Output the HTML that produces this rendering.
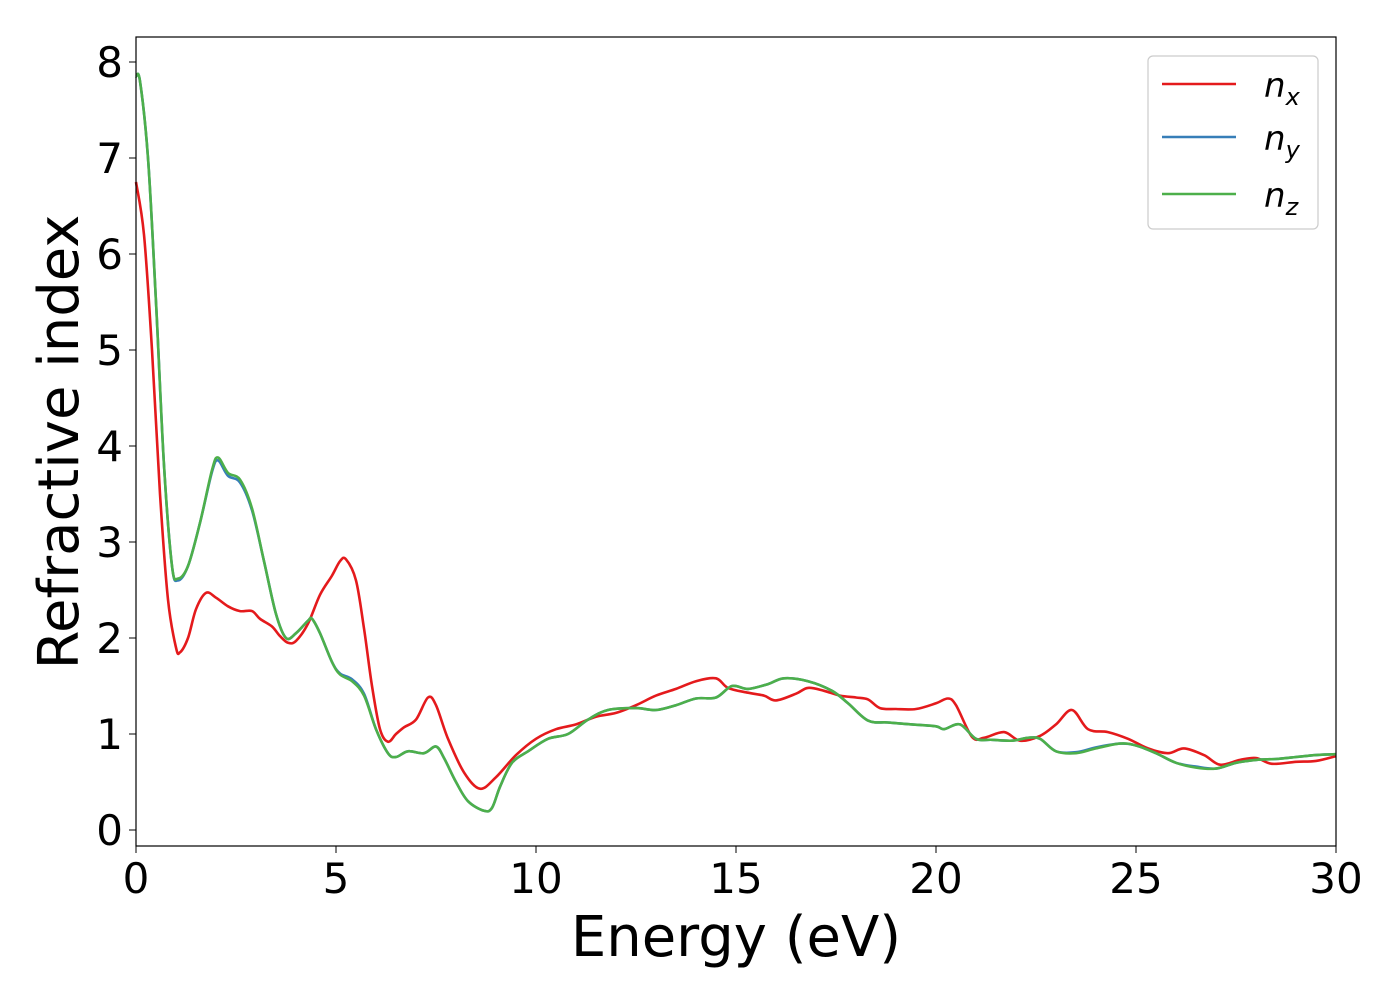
<!DOCTYPE html>
<html><head><meta charset="utf-8"><style>
body{margin:0;background:#fff;}
svg{display:block;font-family:"DejaVu Sans","Liberation Sans",sans-serif;}
</style></head><body>
<svg id="chart" width="1400" height="1000" viewBox="0 0 1400 1000">
<rect x="0" y="0" width="1400" height="1000" fill="#fff"/>
<g id="series"></g>
<rect x="136" y="37" width="1200" height="809" fill="none" stroke="#000" stroke-width="1.2"/>
<g id="ticks"></g>
<text x="736" y="956" font-size="56" text-anchor="middle">Energy (eV)</text>
<text transform="translate(78,442) rotate(-90)" font-size="56" text-anchor="middle">Refractive index</text>
<g>
<rect x="1148" y="56" width="170" height="173" rx="5" fill="#fff" stroke="#ccc" stroke-width="1.2"/>
<g><line x1="1162" y1="84" x2="1236" y2="84" stroke="#e41a1c" stroke-width="2.5"/><text x="1264" y="97" font-size="34" font-style="italic">n<tspan font-size="24" dy="8">x</tspan></text></g>
<g><line x1="1162" y1="137" x2="1236" y2="137" stroke="#377eb8" stroke-width="2.5"/><text x="1264" y="150" font-size="34" font-style="italic">n<tspan font-size="24" dy="8">y</tspan></text></g>
<g><line x1="1162" y1="194" x2="1236" y2="194" stroke="#4daf4a" stroke-width="2.5"/><text x="1264" y="207" font-size="34" font-style="italic">n<tspan font-size="24" dy="8">z</tspan></text></g>
</g>
</svg>
<script>
const xTicks=[0,5,10,15,20,25,30];
const yTicks=[0,1,2,3,4,5,6,7,8];
const nxE=[0,0.2,0.4,0.6,0.8,1.0,1.1,1.3,1.5,1.75,2.0,2.3,2.6,2.9,3.1,3.4,3.6,3.8,4.0,4.3,4.6,4.9,5.1,5.25,5.5,5.7,5.9,6.1,6.3,6.5,6.7,7.0,7.3,7.5,7.8,8.2,8.6,9.0,9.5,10,10.5,11,11.5,12,12.5,13,13.5,14,14.5,14.8,15.3,15.7,16.0,16.5,16.8,17.2,17.6,18,18.3,18.6,19,19.5,20,20.3,20.5,20.9,21.2,21.7,22.1,22.6,23,23.4,23.8,24.3,24.8,25.3,25.8,26.2,26.7,27.1,27.6,28,28.4,29,29.5,30];
const nxV=[6.75,6.2,5,3.5,2.4,1.9,1.85,2.0,2.3,2.47,2.42,2.33,2.28,2.28,2.2,2.12,2.02,1.95,1.97,2.15,2.45,2.65,2.8,2.82,2.6,2.1,1.5,1.05,0.92,1.0,1.07,1.15,1.38,1.3,0.95,0.6,0.43,0.55,0.78,0.95,1.05,1.1,1.18,1.22,1.3,1.4,1.47,1.55,1.58,1.48,1.43,1.4,1.35,1.42,1.48,1.45,1.4,1.38,1.36,1.27,1.26,1.26,1.32,1.37,1.3,0.97,0.96,1.02,0.93,0.98,1.1,1.25,1.05,1.02,0.95,0.85,0.8,0.85,0.78,0.68,0.73,0.75,0.69,0.71,0.72,0.77];
const nzE=[0,0.1,0.3,0.5,0.7,0.9,1.05,1.3,1.6,1.9,2.05,2.3,2.6,2.9,3.2,3.5,3.75,4.0,4.3,4.4,4.6,4.9,5.1,5.4,5.7,6.0,6.3,6.5,6.8,7.2,7.5,7.7,8.0,8.3,8.7,8.9,9.1,9.4,9.8,10.3,10.8,11.3,11.8,12.5,13,13.5,14,14.5,14.9,15.3,15.8,16.2,16.8,17.4,17.8,18.3,18.8,19.4,20,20.2,20.6,21,21.4,21.9,22.3,22.6,23,23.5,24,24.6,25.0,25.5,26.0,26.5,27,27.5,28,28.5,29,29.5,30];
const nzV=[7.85,7.8,7,5.5,3.8,2.75,2.62,2.75,3.2,3.75,3.88,3.72,3.65,3.35,2.8,2.25,2.0,2.05,2.18,2.2,2.05,1.75,1.62,1.55,1.4,1.05,0.8,0.76,0.82,0.8,0.87,0.75,0.5,0.3,0.2,0.23,0.45,0.7,0.82,0.95,1.0,1.15,1.25,1.27,1.25,1.3,1.37,1.38,1.5,1.47,1.52,1.58,1.55,1.45,1.32,1.14,1.12,1.1,1.08,1.05,1.1,0.95,0.94,0.93,0.96,0.95,0.82,0.8,0.85,0.9,0.88,0.8,0.7,0.65,0.64,0.7,0.73,0.74,0.76,0.78,0.79];
const nyE=nzE.slice();
const nyV=[7.85,7.8,7,5.5,3.8,2.75,2.6,2.75,3.2,3.73,3.85,3.69,3.62,3.33,2.8,2.25,2.0,2.05,2.18,2.2,2.05,1.75,1.63,1.57,1.42,1.05,0.8,0.76,0.82,0.8,0.87,0.75,0.5,0.3,0.2,0.23,0.45,0.7,0.82,0.95,1.0,1.15,1.25,1.27,1.25,1.3,1.37,1.38,1.5,1.47,1.52,1.58,1.55,1.45,1.32,1.14,1.12,1.1,1.08,1.05,1.1,0.95,0.94,0.93,0.96,0.95,0.82,0.81,0.86,0.9,0.88,0.8,0.7,0.66,0.64,0.7,0.73,0.74,0.76,0.78,0.79];
const X0=136,X1=1336,Y0=830,PY=96;
function sx(e){return X0+(X1-X0)*e/30;}
function sy(v){return Y0-v*PY;}
const NS="http://www.w3.org/2000/svg";
function pathFor(E,V){
  const p=E.map((e,i)=>[sx(e),sy(V[i])]);
  let d="M"+p[0][0]+","+p[0][1];
  for(let i=0;i<p.length-1;i++){
    const a=p[Math.max(0,i-1)],b=p[i],c=p[i+1],n=p[Math.min(p.length-1,i+2)];
    const c1=[b[0]+(c[0]-a[0])/6,b[1]+(c[1]-a[1])/6];
    const c2=[c[0]-(n[0]-b[0])/6,c[1]-(n[1]-b[1])/6];
    d+=" C"+c1[0].toFixed(1)+","+c1[1].toFixed(1)+" "+c2[0].toFixed(1)+","+c2[1].toFixed(1)+" "+c[0].toFixed(1)+","+c[1].toFixed(1);
  }
  return d;
}
const g=document.getElementById("series");
[[nxE,nxV,"#e41a1c","line-nx"],[nyE,nyV,"#377eb8","line-ny"],[nzE,nzV,"#4daf4a","line-nz"]].forEach(s=>{
  const el=document.createElementNS(NS,"path");
  el.setAttribute("d",pathFor(s[0],s[1]));
  el.setAttribute("fill","none");
  el.setAttribute("stroke",s[2]);
  el.setAttribute("stroke-width","2.6");
  
  
  g.appendChild(el);
});
const t=document.getElementById("ticks");
xTicks.forEach(v=>{
  const l=document.createElementNS(NS,"line");
  l.setAttribute("x1",sx(v));l.setAttribute("x2",sx(v));l.setAttribute("y1",846);l.setAttribute("y2",853);
  l.setAttribute("stroke","#000");
  
  
  t.appendChild(l);
  const tx=document.createElementNS(NS,"text");
  tx.setAttribute("x",sx(v));tx.setAttribute("y",893);tx.setAttribute("font-size","42");tx.setAttribute("text-anchor","middle");
  tx.textContent=v;
  
  
  t.appendChild(tx);
});
yTicks.forEach(v=>{
  const l=document.createElementNS(NS,"line");
  l.setAttribute("x1",129);l.setAttribute("x2",136);l.setAttribute("y1",sy(v));l.setAttribute("y2",sy(v));
  l.setAttribute("stroke","#000");
  
  
  t.appendChild(l);
  const tx=document.createElementNS(NS,"text");
  tx.setAttribute("x",123);tx.setAttribute("y",sy(v)+15);tx.setAttribute("font-size","42");tx.setAttribute("text-anchor","end");
  tx.textContent=v;
  
  
  t.appendChild(tx);
});
</script>
</body></html>
